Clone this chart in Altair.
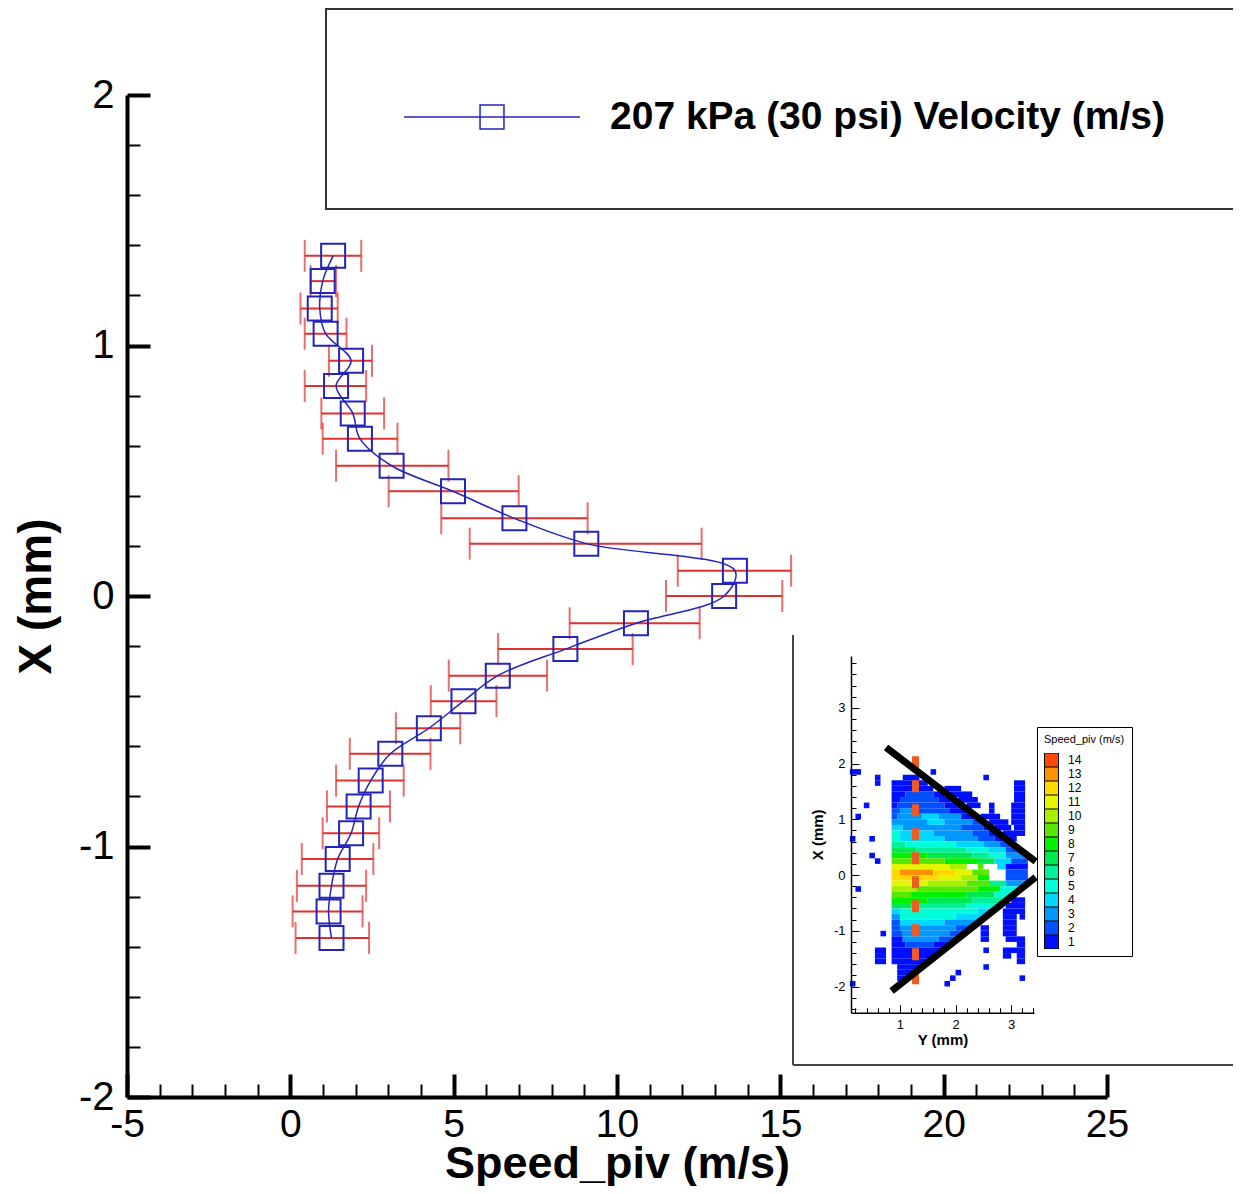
import altair as alt
import pandas as pd

FONT = "Liberation Sans"
BLUE = "#2424bb"
RED = "#e0302f"
LEGEND_LABEL = "207 kPa (30 psi) Velocity (m/s)"
W, H = 980, 1002
HYPHEN_EXPR = "replace(datum.label, '\u2212', '-')"

# ---------------- main profile data ----------------
x_mm = [1.358, 1.257, 1.148, 1.047, 0.939, 0.838, 0.729, 0.628, 0.520, 0.418,
        0.310, 0.209, 0.101, 0.0, -0.109, -0.212, -0.318, -0.420, -0.528, -0.630,
        -0.737, -0.840, -0.947, -1.050, -1.157, -1.259, -1.365]
speed = [1.31, 0.99, 0.90, 1.08, 1.86, 1.40, 1.91, 2.13, 3.10, 4.98,
         6.86, 9.06, 13.61, 13.28, 10.58, 8.42, 6.35, 5.30, 4.24, 3.06,
         2.46, 2.09, 1.86, 1.45, 1.26, 1.17, 1.26]
speed_lo = [0.44, 0.62, 0.31, 0.44, 1.18, 0.44, 0.95, 0.99, 1.40, 3.01,
            4.62, 5.49, 11.86, 11.50, 8.55, 6.36, 4.85, 4.30, 3.23, 1.82,
            1.40, 1.12, 0.99, 0.35, 0.20, 0.07, 0.16]
speed_hi = [2.17, 1.40, 1.45, 1.72, 2.50, 2.32, 2.87, 3.28, 4.84, 6.99,
            9.10, 12.59, 15.33, 15.06, 12.53, 10.48, 7.86, 6.31, 5.20, 4.29,
            3.47, 3.05, 2.72, 2.54, 2.32, 2.21, 2.41]

x_major = [-5, 0, 5, 10, 15, 20, 25]
x_minor = [-4, -3, -2, -1, 1, 2, 3, 4, 6, 7, 8, 9, 11, 12, 13, 14, 16, 17, 18, 19,
           21, 22, 23, 24]
y_major = [-2, -1, 0, 1, 2]
y_minor = [-1.8, -1.6, -1.4, -1.2, -0.8, -0.6, -0.4, -0.2, 0.2, 0.4, 0.6, 0.8,
           1.2, 1.4, 1.6, 1.8]

# ---------------- inset (contour map) data ----------------
levels = [14, 13, 12, 11, 10, 9, 8, 7, 6, 5, 4, 3, 2, 1]
level_colors = ["#ff4800", "#ff9000", "#ffd800", "#e4f500", "#a8f000", "#58e800",
                "#00f000", "#00e850", "#00f098", "#00ffd8", "#00d8ff", "#0098ff",
                "#0050ff", "#0010ff"]

# each row: X centre (mm), list of (Y start, Y end, level)
inset_rows_top = [
    (1.85, [(0.1, 0.3, 1), (1.55, 1.65, 1)]),
    (1.75, [(0.55, 0.65, 1), (1.05, 1.35, 1), (2.5, 2.6, 1)]),
    (1.65, [(0.55, 0.65, 1), (0.85, 1.5, 1), (3.05, 3.25, 1)]),
    (1.55, [(0.85, 1.6, 1), (1.8, 2.1, 1), (3.05, 3.25, 1)]),
    (1.45, [(0.85, 1.1, 1), (1.1, 1.6, 2), (1.6, 1.8, 1), (1.9, 2.3, 1), (3.05, 3.25, 1)]),
    (1.35, [(0.85, 1.0, 1), (1.0, 1.7, 2), (1.7, 1.95, 1), (2.05, 2.4, 1), (3.05, 3.25, 1)]),
    (1.25, [(0.35, 0.45, 1), (0.85, 0.95, 1), (0.95, 1.8, 2), (1.8, 2.1, 1), (2.2, 2.45, 1),
            (2.6, 2.7, 1), (3.0, 3.25, 1)]),
    (1.15, [(0.85, 1.0, 2), (1.0, 1.3, 3), (1.3, 1.9, 2), (1.9, 2.2, 1), (2.6, 2.7, 1),
            (3.0, 3.25, 1)]),
    (1.05, [(0.2, 0.3, 1), (0.85, 0.95, 2), (0.95, 1.4, 3), (1.4, 1.7, 4), (1.7, 2.1, 3),
            (2.1, 2.35, 1), (2.45, 2.8, 1), (3.0, 3.25, 1)]),
    (0.95, [(0.85, 1.5, 3), (1.5, 1.8, 4), (1.8, 2.3, 3), (2.3, 2.5, 2), (2.6, 2.95, 1),
            (3.0, 3.25, 1)]),
    (0.85, [(0.85, 1.05, 4), (1.05, 2.1, 3), (2.1, 2.5, 2), (2.5, 2.62, 1), (2.7, 3.0, 1),
            (3.05, 3.25, 1)]),
    (0.75, [(0.85, 1.0, 5), (1.0, 1.6, 4), (1.6, 2.3, 3), (2.3, 2.6, 2), (2.6, 2.75, 1),
            (2.85, 3.25, 1)]),
    (0.65, [(0.1, 0.2, 1), (0.45, 0.55, 1), (0.85, 1.0, 5), (1.0, 1.8, 4), (1.8, 2.4, 3),
            (2.4, 2.7, 2), (2.7, 2.9, 1), (2.95, 3.1, 1)]),
]
inset_rows_mid = [
    (0.55, [(0.85, 1.1, 6), (1.1, 2.0, 5), (2.0, 2.5, 4), (2.5, 2.8, 3), (2.8, 3.0, 2)]),
    (0.45, [(0.85, 1.3, 7), (1.3, 2.2, 6), (2.2, 2.6, 5), (2.6, 2.9, 4), (2.9, 3.15, 2)]),
    (0.35, [(0.45, 0.55, 1), (0.85, 1.5, 8), (1.5, 2.3, 7), (2.3, 2.6, 6), (2.6, 2.9, 5),
            (2.9, 3.28, 3)]),
    (0.25, [(0.55, 0.65, 1), (0.85, 1.8, 9), (1.8, 2.4, 8), (2.4, 2.7, 7), (2.7, 3.0, 4),
            (3.0, 3.3, 2)]),
    (0.15, [(0.85, 1.9, 11), (1.9, 2.2, 10), (2.4, 2.5, 9), (2.75, 2.9, 4), (2.9, 3.3, 1)]),
    (0.05, [(0.85, 1.0, 12), (1.0, 1.6, 13), (1.6, 2.0, 12), (2.0, 2.3, 11), (2.3, 2.6, 9),
            (2.9, 3.3, 2)]),
    (-0.05, [(0.85, 1.7, 12), (1.7, 2.1, 11), (2.1, 2.4, 10), (2.4, 2.6, 8), (2.9, 3.3, 2)]),
    (-0.15, [(0.85, 1.5, 11), (1.5, 2.2, 10), (2.2, 2.6, 9), (2.6, 2.9, 6), (2.9, 3.3, 3)]),
    (-0.25, [(0.2, 0.3, 1), (0.85, 1.3, 10), (1.3, 2.4, 9), (2.4, 2.8, 8), (2.8, 3.17, 5)]),
    (-0.35, [(0.85, 1.2, 9), (1.2, 2.2, 8), (2.2, 2.7, 7), (2.7, 3.04, 5)]),
    (-0.45, [(0.85, 1.5, 8), (1.5, 2.3, 7), (2.3, 2.9, 6), (3.0, 3.25, 1)]),
    (-0.55, [(0.85, 1.2, 7), (1.2, 2.2, 6), (2.2, 2.78, 5), (2.9, 3.25, 1)]),
    (-0.65, [(0.85, 1.0, 4), (1.0, 2.4, 5), (2.4, 2.66, 4), (2.85, 3.25, 1)]),
]
inset_rows_bottom = [
    (-0.75, [(0.85, 1.0, 3), (1.0, 2.0, 5), (2.0, 2.53, 4), (2.85, 3.1, 1), (3.15, 3.25, 1)]),
    (-0.85, [(0.85, 1.0, 2), (1.0, 1.8, 4), (1.8, 2.4, 3), (2.85, 3.1, 1)]),
    (-0.95, [(0.85, 1.0, 2), (1.0, 2.0, 3), (2.0, 2.27, 2), (2.45, 2.6, 1), (2.85, 3.1, 1)]),
    (-1.05, [(0.65, 0.75, 1), (0.85, 1.05, 2), (1.05, 1.9, 3), (1.9, 2.15, 2), (2.45, 2.6, 1),
             (2.85, 3.1, 1)]),
    (-1.15, [(0.85, 1.05, 1), (1.05, 1.7, 3), (1.7, 2.0, 2), (2.45, 2.6, 1), (2.9, 3.25, 1)]),
    (-1.25, [(0.85, 1.1, 1), (1.1, 1.6, 2), (1.6, 1.89, 1), (3.1, 3.25, 1)]),
    (-1.35, [(0.55, 0.75, 1), (0.85, 1.75, 1), (2.5, 2.6, 1), (2.85, 3.25, 1)]),
    (-1.45, [(0.55, 0.75, 1), (0.85, 1.62, 1), (2.85, 3.0, 1), (3.1, 3.25, 1)]),
    (-1.55, [(0.55, 0.75, 1), (0.85, 1.5, 1), (3.1, 3.25, 1)]),
    (-1.65, [(0.95, 1.37, 1), (2.5, 2.6, 1)]),
    (-1.75, [(0.95, 1.24, 1), (2.0, 2.1, 1)]),
    (-1.85, [(0.95, 1.1, 1), (1.9, 2.0, 1), (3.15, 3.25, 1)]),
    (-1.95, [(0.1, 0.2, 1), (1.8, 1.9, 1)]),
]

wall_Y = [[0.80, 3.39], [0.90, 3.39]]
wall_X = [[2.25, 0.28], [-2.04, -0.08]]
probe_Y = [1.28, 1.28]
probe_X = [2.13, -1.97]

inset_x_major = [1, 2, 3]
inset_x_minor = [0.2, 0.4, 0.6, 0.8, 1.2, 1.4, 1.6, 1.8, 2.2, 2.4, 2.6, 2.8, 3.2, 3.4]
inset_y_major = [-2, -1, 0, 1, 2, 3]
inset_y_minor = [-2.4, -2.2, -1.8, -1.6, -1.4, -1.2, -0.8, -0.6, -0.4, -0.2, 0.2, 0.4,
                 0.6, 0.8, 1.2, 1.4, 1.6, 1.8, 2.2, 2.4, 2.6, 2.8, 3.2, 3.4, 3.6, 3.8]

# ---------------- tables ----------------
mdf = pd.DataFrame({
    "pos": x_mm, "speed": speed, "lo": speed_lo, "hi": speed_hi,
    "idx": list(range(len(x_mm))), "series": [LEGEND_LABEL] * len(x_mm),
})

heat_records = []
for rows in (inset_rows_top, inset_rows_mid, inset_rows_bottom):
    for xc, segs in rows:
        for y0, y1, lvl in segs:
            heat_records.append({"xc": xc, "y0": y0, "y1": y1, "lvl": lvl})
hdf = pd.DataFrame(heat_records)

wdf = pd.DataFrame({
    "wall": [0, 0, 1, 1],
    "Y": wall_Y[0] + wall_Y[1],
    "X": wall_X[0] + wall_X[1],
    "k": [0, 1, 0, 1],
})
pdf = pd.DataFrame({"Y": probe_Y, "X": probe_X, "k": [0, 1]})
one = pd.DataFrame({"k": [0]})

# ---------------- main chart ----------------
xs = alt.Scale(domain=[-5, 25], nice=False, zero=False)
ys = alt.Scale(domain=[-2, 2], nice=False, zero=False)

AX_X = alt.Axis(orient="bottom", values=x_major, ticks=False, tickSize=0, grid=False,
                domain=True, domainColor="black", domainWidth=4, zindex=2,
                labelFont=FONT, labelFontSize=39, labelColor="black", labelPadding=8,
                labelFlush=False, labelOverlap=False, labelExpr=HYPHEN_EXPR,
                title="Speed_piv (m/s)", titleFont=FONT, titleFontSize=45,
                titleFontWeight="bold", titleColor="black", titleX=490, titleY=80,
                titleBaseline="alphabetic", titleAlign="center")
AX_Y = alt.Axis(orient="left", values=y_major, ticks=False, tickSize=0, grid=False,
                domain=True, domainColor="black", domainWidth=4, zindex=2,
                labelFont=FONT, labelFontSize=40, labelColor="black", labelPadding=13,
                labelFlush=False, labelOverlap=False, labelExpr=HYPHEN_EXPR,
                title="X (mm)", titleFont=FONT, titleFontSize=46, titleFontWeight="bold",
                titleColor="black", titleX=-77, titleY=501, titleAngle=270,
                titleBaseline="alphabetic", titleAlign="center")

LEG_PATH = "M-1,0L1,0M-0.136,-0.136L0.136,-0.136L0.136,0.136L-0.136,0.136Z"
LEG = alt.Legend(orient="none", legendX=276, legendY=-67, title=None, padding=0,
                 symbolType=LEG_PATH, symbolSize=30976, symbolStrokeWidth=1.5,
                 symbolFillColor="transparent", labelFont=FONT, labelFontSize=39,
                 labelFontWeight="bold", labelColor="black", labelOffset=29,
                 labelLimit=1000)

err = alt.Chart(mdf).mark_rule(color=RED, strokeWidth=2).encode(
    x=alt.X("lo:Q", scale=xs, axis=AX_X), x2="hi:Q",
    y=alt.Y("pos:Q", scale=ys, axis=AX_Y))
caps = alt.Chart(mdf).transform_fold(["lo", "hi"], as_=["end", "val"]).mark_tick(
    color=RED, orient="vertical", size=32, thickness=2).encode(
    x=alt.X("val:Q", scale=xs, axis=AX_X), y=alt.Y("pos:Q", scale=ys, axis=AX_Y))
line = alt.Chart(mdf).mark_line(strokeWidth=1.5, interpolate="catmull-rom").encode(
    x=alt.X("speed:Q", scale=xs, axis=AX_X), y=alt.Y("pos:Q", scale=ys, axis=AX_Y),
    order=alt.Order("idx:Q"),
    stroke=alt.Stroke("series:N", scale=alt.Scale(domain=[LEGEND_LABEL], range=[BLUE]),
                      legend=LEG))
pts = alt.Chart(mdf).mark_point(shape="square", size=576, filled=False, color=BLUE,
                                strokeWidth=2, opacity=1).encode(
    x=alt.X("speed:Q", scale=xs, axis=AX_X), y=alt.Y("pos:Q", scale=ys, axis=AX_Y))


def tick_layer(df, xf, yf, xscale, yscale, xvals, yvals, xoff, yoff, length, width):
    return alt.Chart(df).mark_point(opacity=0).encode(
        x=alt.X(xf, scale=xscale, axis=alt.Axis(
            orient="top", offset=xoff, values=xvals, labels=False, domain=False,
            ticks=True, tickSize=length, tickWidth=width, tickColor="black",
            grid=False, title=None, zindex=2)),
        y=alt.Y(yf, scale=yscale, axis=alt.Axis(
            orient="right", offset=yoff, values=yvals, labels=False, domain=False,
            ticks=True, tickSize=length, tickWidth=width, tickColor="black",
            grid=False, title=None, zindex=2)))


main_group = alt.layer(
    alt.layer(err, caps, line, pts),
    tick_layer(mdf, "speed:Q", "pos:Q", xs, ys, x_major, y_major, -H, -W, 23, 4),
    tick_layer(mdf, "speed:Q", "pos:Q", xs, ys, x_minor, y_minor, -H, -W, 13, 2),
).resolve_axis(x="independent", y="independent")

# ---------------- inset ----------------
IX0, IX1 = 724, 907
IY0, IY1 = 917.7, 561
ixs = alt.Scale(domain=[0.12, 3.41], range=[IX0, IX1], nice=False, zero=False)
iys = alt.Scale(domain=[-2.47, 3.93], range=[IY0, IY1], nice=False, zero=False)

IAX_X = alt.Axis(orient="bottom", offset=-(H - IY0), values=inset_x_major, ticks=False,
                 tickSize=0, grid=False, domainColor="black", domainWidth=1.5, zindex=2,
                 labelFont=FONT, labelFontSize=13, labelColor="black", labelPadding=6,
                 labelFlush=False, title="Y (mm)", titleFont=FONT, titleFontSize=15,
                 titleFontWeight="bold", titleColor="black", titlePadding=1)
IAX_Y = alt.Axis(orient="left", offset=-IX0, values=inset_y_major, ticks=False,
                 tickSize=0, grid=False, domainColor="black", domainWidth=1.5, zindex=2,
                 labelFont=FONT, labelFontSize=13, labelColor="black", labelPadding=6,
                 labelFlush=False, labelExpr=HYPHEN_EXPR, title="X (mm)", titleFont=FONT,
                 titleFontSize=15, titleFontWeight="bold", titleColor="black",
                 titlePadding=8)

CLEG = alt.Legend(orient="none", legendX=910, legendY=632, direction="vertical",
                  title="Speed_piv (m/s)", titleFont=FONT, titleFontSize=11,
                  titleFontWeight="normal", titleColor="black", titlePadding=8,
                  strokeColor="black", padding=7, symbolType="square", symbolSize=196,
                  symbolStrokeColor="black", symbolStrokeWidth=1, symbolOpacity=1,
                  rowPadding=0, clipHeight=14, labelFont=FONT, labelFontSize=12,
                  labelColor="black", labelOffset=9)

heat = alt.Chart(hdf).transform_calculate(
    xlo="datum.xc - 0.05", xhi="datum.xc + 0.05").mark_rect(opacity=1).encode(
    x=alt.X("y0:Q", scale=ixs, axis=IAX_X), x2="y1:Q",
    y=alt.Y("xlo:Q", scale=iys, axis=IAX_Y), y2="xhi:Q",
    fill=alt.Fill("lvl:O", scale=alt.Scale(domain=levels, range=level_colors), legend=CLEG))
walls = alt.Chart(wdf).mark_line(color="black", strokeWidth=7, strokeCap="square").encode(
    x=alt.X("Y:Q", scale=ixs, axis=IAX_X), y=alt.Y("X:Q", scale=iys, axis=IAX_Y),
    detail="wall:N", order=alt.Order("k:Q"))
probe = alt.Chart(pdf).mark_line(color="#f25a22", strokeWidth=7, strokeDash=[12, 12]).encode(
    x=alt.X("Y:Q", scale=ixs, axis=IAX_X), y=alt.Y("X:Q", scale=iys, axis=IAX_Y),
    order=alt.Order("k:Q"))

inset_group = alt.layer(
    alt.layer(heat, probe, walls),
    tick_layer(pdf, "Y:Q", "X:Q", ixs, iys, inset_x_major, inset_y_major, -IY0, IX0 - W, 8, 1),
    tick_layer(pdf, "Y:Q", "X:Q", ixs, iys, inset_x_minor, inset_y_minor, -IY0, IX0 - W, 5, 1),
).resolve_axis(x="independent", y="independent")

# ---------------- decorations: legend box and inset frame ----------------
legend_box = alt.Chart(one).mark_rect(fill="transparent", stroke="#333333", strokeWidth=2).encode(
    x=alt.value(199), x2=alt.value(1300), y=alt.value(-86), y2=alt.value(114))
frame_bg = alt.Chart(one).mark_rect(fill="white").encode(
    x=alt.value(666), x2=alt.value(1108), y=alt.value(540), y2=alt.value(970))
frame_l = alt.Chart(one).mark_rule(color="#444444", strokeWidth=2).encode(
    x=alt.value(666), y=alt.value(540), y2=alt.value(970))
frame_r = alt.Chart(one).mark_rule(color="#444444", strokeWidth=2).encode(
    x=alt.value(1108), y=alt.value(540), y2=alt.value(970))
frame_b = alt.Chart(one).mark_rule(color="#444444", strokeWidth=2).encode(
    x=alt.value(666), x2=alt.value(1108), y=alt.value(970))

chart = alt.layer(
    legend_box, main_group, frame_bg, frame_l, frame_r, frame_b, inset_group
).resolve_scale(
    x="independent", y="independent", stroke="independent", fill="independent"
).properties(
    width=W, height=H,
    padding={"left": 119, "top": 87, "right": 126, "bottom": 89},
    autosize=alt.AutoSizeParams(type="none"),
    view=alt.ViewBackground(stroke="transparent", strokeWidth=0, strokeOpacity=0),
).configure_view(stroke="transparent", strokeWidth=0, strokeOpacity=0).configure(
    background="white", style={"cell": {"stroke": "transparent", "strokeWidth": 0}}
)

chart.save("out.html", embed_options={"renderer": "svg", "actions": False})
